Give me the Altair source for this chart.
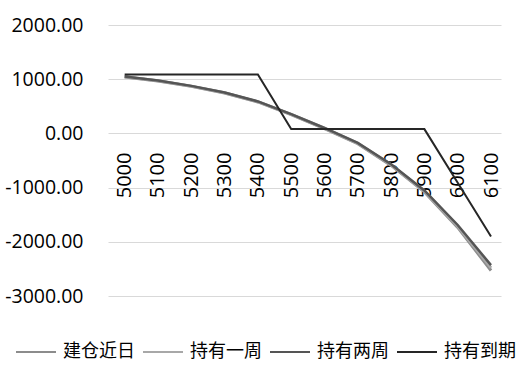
import altair as alt
import pandas as pd

strikes = [5000, 5100, 5200, 5300, 5400, 5500, 5600, 5700, 5800, 5900, 6000, 6100]
series_names = ["建仓近日", "持有一周", "持有两周", "持有到期"]
s_open = [1040, 968, 868, 745, 580, 345, 90, -190, -590, -1080, -1735, -2530]
s_week1 = [1044, 972, 872, 750, 585, 350, 95, -182, -580, -1066, -1712, -2480]
s_week2 = [1048, 976, 877, 755, 590, 355, 100, -175, -570, -1052, -1690, -2430]
s_expiry = [1087, 1087, 1087, 1087, 1087, 79, 79, 79, 79, 79, -910, -1904]
colors = ["#8c8c8c", "#a8a8a8", "#555555", "#262626"]
widths = [3, 3, 2.5, 2]
y_ticks = [2000, 1000, 0, -1000, -2000, -3000]

rows = []
for name, vals, w in zip(series_names, [s_open, s_week1, s_week2, s_expiry], widths):
    for k, v in zip(strikes, vals):
        rows.append({"strike": k, "value": v, "series": name, "w": w})
df = pd.DataFrame(rows)

chart = alt.Chart(df).mark_line().encode(
    x=alt.X("strike:Q",
            scale=alt.Scale(domain=[4950, 6130], nice=False, zero=False),
            axis=alt.Axis(values=strikes, labelAngle=270, grid=False, domain=False,
                          ticks=False, offset=-163, labelPadding=19, title=None,
                          labelFont="Open Sans", labelFontSize=20, labelColor="#000",
                          format="d", labelOverlap=False)),
    y=alt.Y("value:Q",
            scale=alt.Scale(domain=[-3000, 2000], nice=False),
            axis=alt.Axis(values=y_ticks, domain=False, ticks=False,
                          labelExpr="replace(format(datum.value, '.2f'), '\u2212', '-')",
                          labelPadding=25, title=None, labelFont="Open Sans",
                          labelFontSize=19.5, labelColor="#000",
                          gridColor="#d9d9d9", gridWidth=1)),
    color=alt.Color("series:N",
                    scale=alt.Scale(domain=series_names, range=colors),
                    sort=series_names,
                    legend=alt.Legend(orient="none", direction="horizontal",
                                      legendX=-93, legendY=306, title=None,
                                      symbolType="stroke", symbolSize=1600,
                                      symbolStrokeWidth=2, labelFont="Noto Sans CJK SC",
                                      labelFontSize=18, labelColor="#000",
                                      labelOffset=6, columnPadding=4)),
    strokeWidth=alt.StrokeWidth("w:Q", scale=None, legend=None),
    order=alt.Order("strike:Q"),
).properties(
    width=393, height=271,
    autosize=alt.AutoSizeParams(type="none"),
    padding={"left": 108, "top": 25, "right": 27, "bottom": 73},
).configure_view(stroke=None)

chart.save("out.html", embed_options={"renderer": "svg", "actions": False})
